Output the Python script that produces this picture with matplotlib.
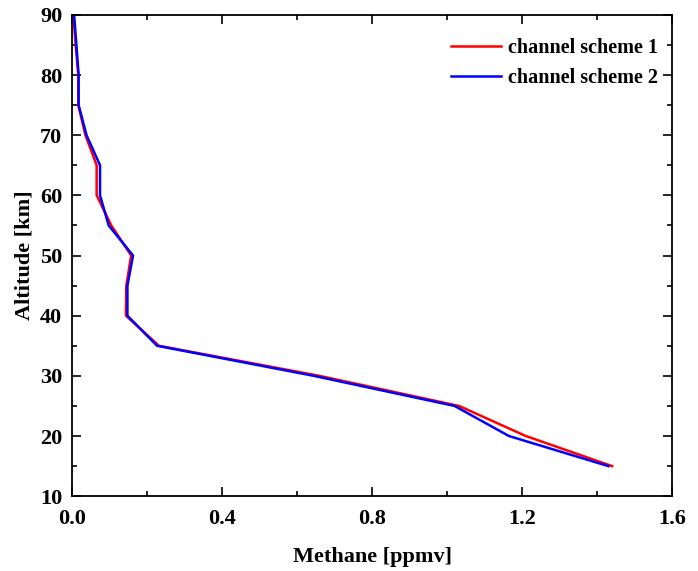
import numpy as np
import matplotlib.pyplot as plt
from matplotlib.ticker import MultipleLocator

# altitude levels [km]
altitude = [15, 20, 25, 30, 35, 40, 45, 50, 55, 60, 65, 70, 75, 80, 85, 90]

# methane retrieved with the two channel schemes [ppmv]
scheme1 = [1.44, 1.21, 1.032, 0.66, 0.232, 0.144, 0.145, 0.158, 0.105, 0.066,
           0.066, 0.036, 0.017, 0.017, 0.010, 0.004]
scheme2 = [1.43, 1.165, 1.02, 0.645, 0.227, 0.148, 0.148, 0.163, 0.098, 0.075,
           0.075, 0.039, 0.018, 0.018, 0.012, 0.006]

plt.rcParams['font.family'] = ['Liberation Serif', 'DejaVu Serif']
plt.rcParams['font.weight'] = 'bold'

fig = plt.figure(figsize=(6.98, 5.71), dpi=100)
ax = fig.add_axes([0.103, 0.131, 0.860, 0.843])

ax.plot(scheme1, altitude, color='red', lw=1.8, label='channel scheme 1')
ax.plot(scheme2, altitude, color='blue', lw=1.8, label='channel scheme 2')

ax.set_xlim(0, 1.6)
ax.set_ylim(10, 90)
ax.xaxis.set_major_locator(MultipleLocator(0.4))
ax.xaxis.set_minor_locator(MultipleLocator(0.2))
ax.yaxis.set_major_locator(MultipleLocator(10))
ax.yaxis.set_minor_locator(MultipleLocator(5))
ax.tick_params(which='both', direction='in', top=True, right=True, width=1.2)
ax.tick_params(which='major', length=6.5, labelsize=16)
ax.tick_params(axis='x', which='major', pad=9)
ax.tick_params(axis='y', which='major', pad=7)
ax.tick_params(which='minor', length=3.5)
for lab in ax.get_xticklabels() + ax.get_yticklabels():
    lab.set_fontweight('bold')
ax.xaxis.set_major_formatter(plt.FuncFormatter(lambda v, p: f'{v:.1f}'))
for s in ax.spines.values():
    s.set_linewidth(1.3)

ax.set_xlabel('Methane [ppmv]', fontsize=16, fontweight='bold', labelpad=13)
ax.set_ylabel('Altitude [km]', fontsize=16, fontweight='bold', labelpad=4)

ax.legend(loc='upper right', bbox_to_anchor=(0.977, 0.952), frameon=False,
          handlelength=2.5, handletextpad=0.35, borderaxespad=0, borderpad=0,
          labelspacing=0.5, prop={'weight': 'bold', 'size': 14.5})

fig.savefig('out.png', dpi=100)
